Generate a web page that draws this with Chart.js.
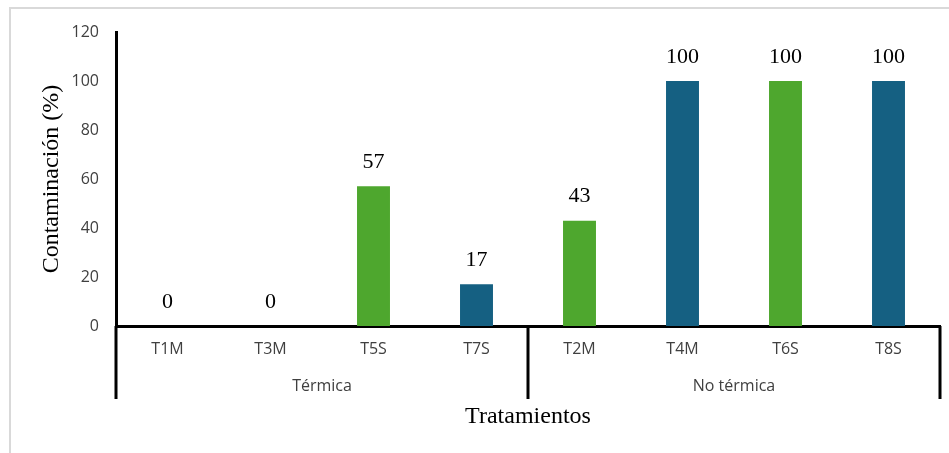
<!DOCTYPE html>
<html>
<head>
<meta charset="utf-8">
<script src="https://cdn.jsdelivr.net/npm/chart.js@4"></script>
<style>
  html, body { margin: 0; padding: 0; background: #fff; }
  #wrap { position: relative; width: 949px; height: 453px; }
</style>
</head>
<body>
<div id="wrap"><canvas id="grafico"></canvas></div>
<script>
// - - - - - - - - - - Datos - - - - - - - - - -
const tratamientos = ['T1M', 'T3M', 'T5S', 'T7S', 'T2M', 'T4M', 'T6S', 'T8S'];
const contaminacion = [0, 0, 57, 17, 43, 100, 100, 100];
const grupos = ['Térmica', 'No térmica'];
const ticks_y = [0, 20, 40, 60, 80, 100, 120];

const verde = '#4ea72e';
const azul = '#156082';
const colores = tratamientos.map((t, i) => i % 2 === 0 ? verde : azul);

// fondo con el marco gris (solo arriba e izquierda)
const marco = {
    id: 'marco',
    beforeDraw(chart) {
        const ctx = chart.ctx;
        ctx.save();
        ctx.fillStyle = '#fff';
        ctx.fillRect(0, 0, chart.width, chart.height);
        ctx.strokeStyle = '#d9d9d9';
        ctx.lineWidth = 2;
        ctx.beginPath();
        ctx.moveTo(10, chart.height);
        ctx.lineTo(10, 8);
        ctx.lineTo(chart.width, 8);
        ctx.stroke();
        ctx.restore();
    }
};

// líneas verticales bajo el eje X que separan los grupos
const separadores = {
    id: 'separadores',
    afterDraw(chart) {
        const ctx = chart.ctx;
        const x = chart.scales.x;
        const g = chart.scales.grupo;
        const area = chart.chartArea;
        const medio = (x.getPixelForValue(3) + x.getPixelForValue(4)) / 2;
        const fin = g.top + 31;
        ctx.save();
        ctx.strokeStyle = '#000';
        ctx.lineWidth = 3;
        ctx.beginPath();
        [area.left, medio, area.right].forEach(px => {
            ctx.moveTo(px, area.bottom);
            ctx.lineTo(px, fin);
        });
        ctx.stroke();
        ctx.restore();
    }
};

// etiquetas de valor encima de cada barra
const etiquetas = {
    id: 'etiquetas',
    afterDatasetsDraw(chart) {
        const ctx = chart.ctx;
        const meta = chart.getDatasetMeta(0);
        ctx.save();
        ctx.font = '22px "Liberation Serif", "Times New Roman", serif';
        ctx.fillStyle = '#000';
        ctx.textAlign = 'center';
        ctx.textBaseline = 'middle';
        meta.data.forEach((bar, i) => {
            ctx.fillText(String(contaminacion[i]), bar.x, bar.y - 24);
        });
        ctx.restore();
    }
};

const ctx_grafico = document.getElementById('grafico').getContext('2d');

const fuente_ejes = { family: '"Open Sans", sans-serif', size: 16 };
const gris = '#404040';

const grafico = new Chart(ctx_grafico, {
    type: 'bar',
    data: {
        labels: tratamientos,
        datasets: [{
            data: contaminacion,
            backgroundColor: colores,
            borderWidth: 0,
            categoryPercentage: 1,
            barPercentage: 0.32
        }]
    },
    options: {
        responsive: true,
        maintainAspectRatio: false,
        animation: false,
        layout: { padding: { left: 10, top: 32, right: 9, bottom: 0 } },
        plugins: {
            legend: { display: false },
            tooltip: { enabled: false }
        },
        scales: {
            y: {
                min: 0,
                max: 120,
                afterFit(scale) { scale.width = 106; },
                afterBuildTicks(scale) { scale.ticks = ticks_y.map(v => ({ value: v })); },
                ticks: { padding: 17, color: gris, font: fuente_ejes },
                grid: { display: false, drawTicks: false },
                border: { color: '#000', width: 3 },
                title: {
                    display: true,
                    text: 'Contaminación (%)',
                    color: '#000',
                    font: { family: '"Liberation Serif", "Times New Roman", serif', size: 24 },
                    padding: { top: 27, bottom: 0 }
                }
            },
            x: {
                weight: 1,
                afterFit(scale) { scale.height = 42; },
                ticks: { padding: 14, color: gris, font: fuente_ejes },
                grid: { display: false, drawTicks: false },
                border: { color: '#000', width: 3 }
            },
            grupo: {
                type: 'category',
                position: 'bottom',
                weight: 2,
                labels: grupos,
                offset: true,
                afterFit(scale) { scale.height = 85; },
                ticks: { padding: 9, color: gris, font: fuente_ejes },
                grid: { display: false, drawTicks: false },
                border: { display: false },
                title: {
                    display: true,
                    text: 'Tratamientos',
                    color: '#000',
                    font: { family: '"Liberation Serif", "Times New Roman", serif', size: 24 },
                    padding: { top: 0, bottom: 22 }
                }
            }
        }
    },
    plugins: [marco, separadores, etiquetas]
});
</script>
</body>
</html>
